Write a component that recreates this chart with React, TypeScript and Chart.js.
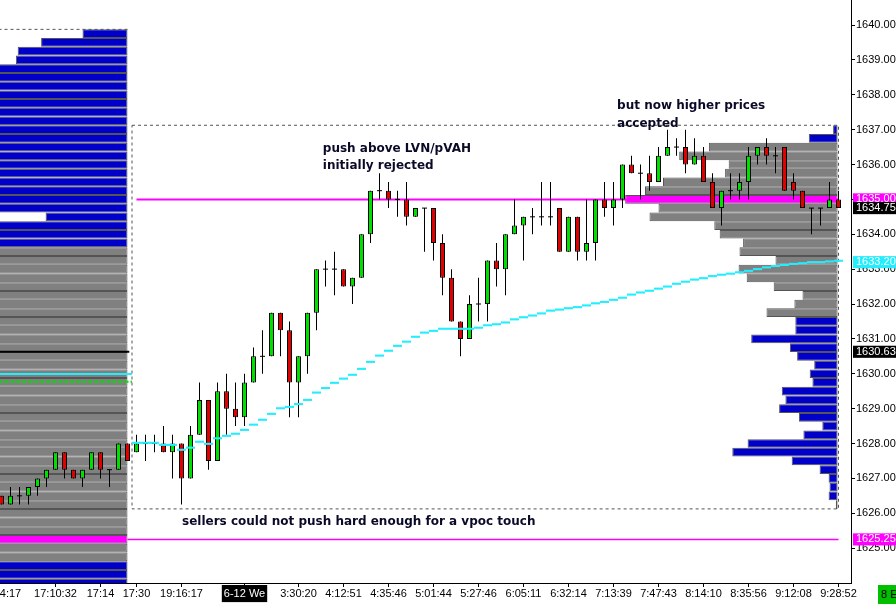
import React, { useEffect, useRef } from "react";
import { Chart, registerables } from "chart.js";

Chart.register(...registerables);

// price / bar-slot ranges of the visible window
const PRICE_MIN = 1624.0;
const PRICE_MAX = 1640.717;
const TICK = 0.25;
const X_MIN = -1 / 6;
const X_MAX = X_MIN + 851 / 9;

// candles (one per bar slot), previous session = 0..14, current = 15..93
const opens = [
  1626.5, 1626.25, 1626.5, 1626.5, 1626.75, 1627.0, 1627.25, 1627.75, 1627.25, 1627.0,
  1627.25, 1627.75, 1627.25, 1627.25, 1628.0, 1627.75, 1628.0, 1628.0, 1628.0, 1627.75,
  1628.0, 1627.0, 1628.25, 1629.25, 1627.5, 1629.5, 1629.0, 1628.75, 1629.75, 1630.5,
  1630.5, 1631.75, 1631.25, 1629.75, 1630.5, 1631.75, 1633.0, 1633.0, 1633.0, 1632.5,
  1632.75, 1634.0, 1635.25, 1635.25, 1635.0, 1635.0, 1634.5, 1634.75, 1634.75, 1633.75,
  1632.75, 1631.5, 1631.0, 1632.0, 1632.0, 1633.25, 1633.0, 1634.0, 1634.25, 1634.5,
  1634.5, 1634.5, 1634.75, 1633.5, 1634.5, 1633.5, 1633.75, 1635.0, 1634.75, 1635.0,
  1636.0, 1635.75, 1635.75, 1635.5, 1636.25, 1636.5, 1636.5, 1636.0, 1636.25, 1635.5,
  1634.75, 1635.25, 1635.25, 1635.5, 1636.25, 1636.5, 1636.25, 1636.5, 1635.5, 1635.25,
  1634.75, 1634.75, 1634.75, 1635.0,
];
const highs = [
  1626.5, 1626.75, 1626.75, 1626.75, 1627.0, 1627.25, 1627.75, 1627.75, 1627.25, 1627.25,
  1627.75, 1627.75, 1627.25, 1628.0, 1628.0, 1628.25, 1628.25, 1628.25, 1628.5, 1628.25,
  1628.0, 1628.5, 1629.75, 1629.25, 1629.75, 1630.0, 1629.75, 1630.0, 1630.75, 1631.25,
  1631.75, 1631.75, 1631.5, 1630.5, 1631.75, 1633.0, 1633.25, 1633.5, 1633.0, 1632.75,
  1634.0, 1635.25, 1635.75, 1635.5, 1635.25, 1635.5, 1634.75, 1634.75, 1634.75, 1634.0,
  1633.0, 1631.5, 1632.25, 1632.75, 1633.25, 1633.75, 1634.0, 1635.0, 1634.5, 1634.75,
  1635.5, 1635.5, 1634.75, 1634.5, 1634.5, 1635.0, 1635.0, 1635.5, 1635.5, 1636.0,
  1636.25, 1636.0, 1636.25, 1636.5, 1637.0, 1636.75, 1637.0, 1636.75, 1636.5, 1635.75,
  1635.25, 1635.75, 1635.75, 1636.5, 1636.5, 1636.75, 1636.5, 1636.5, 1635.75, 1635.25,
  1634.75, 1634.75, 1635.5, 1635.25,
];
const lows = [
  1626.25, 1626.25, 1626.25, 1626.25, 1626.5, 1626.75, 1627.25, 1627.0, 1627.0, 1626.75,
  1627.25, 1627.0, 1626.75, 1627.25, 1627.5, 1627.75, 1627.5, 1627.75, 1627.75, 1627.0,
  1626.25, 1627.0, 1628.25, 1627.25, 1627.5, 1628.25, 1628.5, 1628.5, 1629.75, 1630.0,
  1630.5, 1630.5, 1628.75, 1628.75, 1630.0, 1631.25, 1632.5, 1632.25, 1632.5, 1632.0,
  1632.75, 1633.75, 1635.0, 1634.75, 1634.5, 1634.25, 1634.5, 1633.5, 1633.25, 1632.25,
  1631.5, 1630.5, 1631.0, 1631.5, 1631.5, 1632.5, 1632.25, 1634.0, 1633.25, 1634.0,
  1634.25, 1634.25, 1633.5, 1633.5, 1633.25, 1633.25, 1633.25, 1634.5, 1634.25, 1634.75,
  1635.75, 1635.0, 1635.25, 1635.5, 1636.25, 1636.25, 1635.75, 1636.0, 1635.5, 1634.75,
  1634.25, 1635.0, 1635.0, 1635.0, 1636.0, 1636.0, 1635.75, 1635.25, 1635.0, 1634.75,
  1634.0, 1634.25, 1634.75, 1634.75,
];
const closes = [
  1626.25, 1626.5, 1626.5, 1626.75, 1627.0, 1627.25, 1627.75, 1627.25, 1627.0, 1627.25,
  1627.75, 1627.25, 1627.25, 1628.0, 1627.5, 1628.0, 1628.0, 1628.0, 1627.75, 1628.0,
  1627.0, 1628.25, 1629.25, 1627.5, 1629.5, 1629.0, 1628.75, 1629.75, 1630.5, 1630.5,
  1631.75, 1631.25, 1629.75, 1630.5, 1631.75, 1633.0, 1633.0, 1633.0, 1632.5, 1632.75,
  1634.0, 1635.25, 1635.25, 1635.0, 1635.0, 1634.5, 1634.75, 1634.75, 1633.75, 1632.75,
  1631.5, 1631.0, 1632.0, 1632.0, 1633.25, 1633.0, 1634.0, 1634.25, 1634.5, 1634.5,
  1634.5, 1634.5, 1633.5, 1634.5, 1633.5, 1633.75, 1635.0, 1634.75, 1635.0, 1636.0,
  1635.75, 1635.75, 1635.5, 1636.25, 1636.5, 1636.5, 1636.0, 1636.25, 1635.5, 1634.75,
  1635.25, 1635.25, 1635.5, 1636.25, 1636.5, 1636.25, 1636.25, 1635.25, 1635.25, 1634.75,
  1634.75, 1634.75, 1635.0, 1634.75,
];

// running VWAP of the current session, one value per bar from SESSION_START
const SESSION_START = 15;
const vwap = [
  1628.02, 1628.02, 1628.02, 1627.96, 1627.96, 1627.82, 1627.88, 1628.05, 1627.99, 1628.15,
  1628.22, 1628.28, 1628.39, 1628.54, 1628.68, 1628.85, 1629.01, 1629.05, 1629.13, 1629.25,
  1629.46, 1629.59, 1629.74, 1629.86, 1629.97, 1630.14, 1630.34, 1630.52, 1630.66, 1630.8,
  1630.92, 1631.06, 1631.18, 1631.23, 1631.29, 1631.29, 1631.29, 1631.29, 1631.32, 1631.39,
  1631.42, 1631.47, 1631.56, 1631.62, 1631.67, 1631.73, 1631.81, 1631.84, 1631.88, 1631.91,
  1631.96, 1632.02, 1632.06, 1632.12, 1632.18, 1632.27, 1632.33, 1632.38, 1632.44, 1632.5,
  1632.58, 1632.64, 1632.7, 1632.74, 1632.8, 1632.84, 1632.87, 1632.91, 1632.95, 1633.0,
  1633.05, 1633.09, 1633.12, 1633.15, 1633.17, 1633.2, 1633.2, 1633.22, 1633.24,
];

// previous session volume profile (volume in bar-slot widths), from the top price down
const prevProfileTop = 1639.75;
const prevProfileRight = 14;
const prevProfileVolume = [
  5.0, 9.6, 12.2, 12.4, 15.2, 16.0, 15.8, 17.1, 16.4, 18.0,
  17.5, 16.9, 18.6, 19.2, 17.8, 18.4, 17.0, 16.2, 15.6, 16.8,
  15.9, 9.1, 15.1, 16.3, 17.4, 18.2, 19.5, 20.1, 21.3, 22.0,
  20.8, 21.6, 22.4, 23.1, 22.7, 21.9, 23.5, 24.2, 23.8, 22.6,
  21.4, 22.9, 24.6, 25.1, 24.0, 23.3, 22.1, 21.0, 22.5, 23.7,
  24.8, 25.6, 26.2, 25.4, 24.4, 23.6, 25.9, 27.1, 30.0, 26.5,
  24.3, 19.0, 17.5, 16.0,
];
const prevValueArea = [1624.75, 1633.5];
const prevVpoc = 1625.25;

// current session volume profile
const currProfileTop = 1637.0;
const currProfileRight = 92.9;
const currProfileVolume = [
  0.5, 3.2, 14.3, 17.6, 12.1, 12.5, 19.4, 21.4, 23.6, 19.9,
  20.9, 13.7, 13.1, 10.5, 10.9, 6.9, 11.0, 10.1, 7.1, 3.9,
  4.8, 7.9, 4.7, 4.7, 9.6, 5.3, 4.5, 2.6, 3.1, 2.8,
  6.2, 5.8, 6.5, 4.3, 1.7, 3.8, 10.0, 11.7, 5.1, 2.0,
  1.0, 0.9, 1.0, 0.2,
];
const currValueArea = [1631.75, 1636.5];
const currVpoc = 1635.0;

// reference levels
const sessionHigh = 1637.0;
const sessionLow = 1626.25;
const prevSessionHigh = 1639.75;
const prevSettle = 1630.63;
const prevVwapClose = 1629.99;
const prevGreenLevel = 1629.77;

// axis labels
const priceTicks = [1640, 1639, 1638, 1637, 1636, 1635, 1634, 1633, 1632, 1631, 1630, 1629, 1628, 1627, 1626, 1625];
const priceFlags = [
  { value: 1635.0, bg: "#FF00FF", fg: "#FFFFFF" },
  { value: 1634.75, bg: "#000000", fg: "#FFFFFF" },
  { value: 1633.2, bg: "#22EEFF", fg: "#FFFFFF" },
  { value: 1630.63, bg: "#000000", fg: "#FFFFFF" },
  { value: 1625.25, bg: "#FF00FF", fg: "#FFFFFF" },
];
const timeTickIndex = [1, 6, 11, 15, 20, 27, 33, 38, 43, 48, 53, 58, 63, 68, 73, 78, 83, 88, 93];
const timeTickLabels = [
  "4:17", "17:10:32", "17:14", "17:30", "19:16:17", "6-12 We", "3:30:20", "4:12:51", "4:35:46",
  "5:01:44", "5:27:46", "6:05:11", "6:32:14", "7:13:39", "7:47:43", "8:14:10", "8:35:56", "9:12:08", "9:28:52",
];
const dayBreakLabel = "6-12 We";

const notes = [
  { x: 35.7, y: 1636.45, lines: ["push above LVN/pVAH", "initially rejected"] },
  { x: 68.4, y: 1637.68, lines: ["but now higher prices", "accepted"] },
  { x: 20.06, y: 1625.75, lines: ["sellers could not push hard enough for a vpoc touch"] },
];

const GREEN = "#00E000";
const RED = "#E00000";
const BLUE = "#0000C8";
const GRAY = "#808080";
const MAGENTA = "#FF00FF";
const CYAN = "#22EEFF";
const EDGE = "#555555";
const AXIS_FONT = { family: '"Liberation Sans", Arial, sans-serif', size: 11, lineHeight: 1.1 };

const profileBars = (top: number, right: number, volumes: number[]) =>
  volumes.map((v, k) => ({ y: top - k * TICK, x: [right - v, right] }));

const profileColor = (top: number, va: number[], poc: number) => (ctx: any) => {
  const p = top - (ctx.dataIndex ?? 0) * TICK;
  if (p === poc) return MAGENTA;
  return p >= va[0] && p <= va[1] ? GRAY : BLUE;
};

const hLine = (value: number, from: number, to: number) => [
  { x: from, y: value },
  { x: to, y: value },
];

const notesPlugin = {
  id: "notes",
  afterDatasetsDraw(chart: any) {
    const { ctx, scales } = chart;
    ctx.save();
    ctx.font = 'bold 12px "DejaVu Sans", sans-serif';
    ctx.fillStyle = "#0a0a28";
    ctx.textBaseline = "middle";
    ctx.textAlign = "left";
    notes.forEach((n) => {
      n.lines.forEach((line, k) => {
        ctx.fillText(line, scales.x.getPixelForValue(n.x), scales.y.getPixelForValue(n.y) + k * 17.5);
      });
    });
    ctx.restore();
  },
};

const App: React.FC = () => {
  const chartRef = useRef<HTMLCanvasElement | null>(null);

  useEffect(() => {
    const ctx = chartRef.current?.getContext("2d");
    if (!ctx) {
      return;
    }

    const last = opens.length - 1;
    const barThick = (TICK * 583) / (PRICE_MAX - PRICE_MIN);

    const wickData = opens.map((_, i) => ({ x: i, y: [lows[i], highs[i]] }));
    const bodyData = opens.map((o, i) => {
      const c = closes[i];
      // a doji is drawn as a flat 1px dash
      return o === c ? { x: i, y: [o - 0.0145, o + 0.0145] } : { x: i, y: [Math.min(o, c), Math.max(o, c)] };
    });
    const vwapData = vwap.map((v, k) => ({ x: SESSION_START + k, y: [v - 0.03, v + 0.03] }));

    const sessionBox = [
      { x: SESSION_START - 0.5, y: sessionHigh + TICK / 2 },
      { x: last, y: sessionHigh + TICK / 2 },
      { x: last, y: sessionLow - TICK / 2 },
      { x: SESSION_START - 0.5, y: sessionLow - TICK / 2 },
      { x: SESSION_START - 0.5, y: sessionHigh + TICK / 2 },
    ];

    const barCommon = {
      grouped: false,
      borderSkipped: false,
      inflateAmount: 0,
    };
    const lineCommon = {
      type: "line" as const,
      pointRadius: 0,
      tension: 0,
      fill: false,
    };

    const myChart = new Chart(ctx, {
      type: "bar",
      data: {
        datasets: [
          {
            ...barCommon,
            label: "vwap",
            data: vwapData as any,
            backgroundColor: CYAN,
            borderWidth: 0,
            barThickness: 9,
            order: 0,
          },
          {
            ...barCommon,
            label: "bodies",
            data: bodyData as any,
            backgroundColor: (c: any) => {
              const i = c.dataIndex ?? 0;
              return closes[i] > opens[i] ? GREEN : closes[i] < opens[i] ? RED : "#000";
            },
            borderColor: "#000",
            borderWidth: (c: any) => (opens[c.dataIndex ?? 0] === closes[c.dataIndex ?? 0] ? 0 : 1),
            barThickness: 5,
            order: 1,
          },
          {
            ...barCommon,
            label: "wicks",
            data: wickData as any,
            backgroundColor: "#000",
            borderWidth: 0,
            barThickness: 1,
            order: 2,
          },
          {
            ...lineCommon,
            label: "pvpoc",
            data: hLine(currVpoc, SESSION_START, last),
            borderColor: MAGENTA,
            borderWidth: 2,
            order: 3,
          },
          {
            ...lineCommon,
            label: "prev vpoc",
            data: hLine(prevVpoc, prevProfileRight, last),
            borderColor: MAGENTA,
            borderWidth: 1.5,
            order: 3,
          },
          {
            ...lineCommon,
            label: "settle",
            data: hLine(prevSettle, -1, prevProfileRight + 0.2),
            borderColor: "#000",
            borderWidth: 2,
            order: 3,
          },
          {
            ...lineCommon,
            label: "prev vwap",
            data: hLine(prevVwapClose, -1, SESSION_START - 0.5),
            borderColor: CYAN,
            borderWidth: 2,
            order: 3,
          },
          {
            ...lineCommon,
            label: "green",
            data: hLine(prevGreenLevel, -1, SESSION_START - 0.5),
            borderColor: GREEN,
            borderWidth: 2,
            borderDash: [4, 2],
            order: 3,
          },
          {
            ...barCommon,
            label: "prev profile",
            indexAxis: "y",
            data: profileBars(prevProfileTop, prevProfileRight, prevProfileVolume) as any,
            backgroundColor: profileColor(prevProfileTop, prevValueArea, prevVpoc),
            borderColor: EDGE,
            borderWidth: 1,
            barThickness: barThick,
            order: 4,
          },
          {
            ...barCommon,
            label: "profile",
            indexAxis: "y",
            data: profileBars(currProfileTop, currProfileRight, currProfileVolume) as any,
            backgroundColor: profileColor(currProfileTop, currValueArea, currVpoc),
            borderColor: EDGE,
            borderWidth: 1,
            barThickness: barThick,
            order: 4,
          },
          {
            ...lineCommon,
            label: "session box",
            data: sessionBox,
            borderColor: EDGE,
            borderWidth: 1,
            borderDash: [3, 3],
            order: 5,
          },
          {
            ...lineCommon,
            label: "prev box",
            data: hLine(prevSessionHigh + TICK / 2, -1, prevProfileRight),
            borderColor: EDGE,
            borderWidth: 1,
            borderDash: [3, 3],
            order: 5,
          },
        ] as any,
      },
      options: {
        animation: false,
        responsive: true,
        maintainAspectRatio: false,
        events: [],
        layout: { padding: 0 },
        plugins: {
          legend: { display: false },
          tooltip: { enabled: false },
        },
        scales: {
          x: {
            type: "linear",
            position: "bottom",
            min: X_MIN,
            max: X_MAX,
            offset: false,
            afterBuildTicks: (s: any) => {
              s.ticks = timeTickIndex.map((v) => ({ value: v }));
            },
            afterFit: (s: any) => {
              s.height = 21;
              s.paddingLeft = 0;
              s.paddingRight = 0;
            },
            ticks: {
              autoSkip: false,
              maxRotation: 0,
              minRotation: 0,
              padding: 1,
              font: AXIS_FONT,
              callback: (_v: any, i: number) => timeTickLabels[i],
              color: (c: any) => (timeTickLabels[c.index] === dayBreakLabel ? "#FFFFFF" : "#000"),
              showLabelBackdrop: (c: any) => timeTickLabels[c.index] === dayBreakLabel,
              backdropColor: "#000",
              backdropPadding: { top: 3, bottom: 2, left: 2, right: 2 },
            },
            grid: {
              display: true,
              drawOnChartArea: false,
              drawTicks: true,
              tickLength: 4,
              offset: false,
              tickColor: (c: any) => (c.index === 0 ? "rgba(0,0,0,0)" : "#000"),
            },
            border: { display: true, color: "#000", width: 1 },
          },
          y: {
            type: "linear",
            position: "right",
            min: PRICE_MIN,
            max: PRICE_MAX,
            offset: false,
            beginAtZero: false,
            afterBuildTicks: (s: any) => {
              s.ticks = [...priceTicks.map((v) => ({ value: v })), ...priceFlags.map((f) => ({ value: f.value }))];
            },
            afterFit: (s: any) => {
              s.width = 45;
              s.paddingTop = 0;
              s.paddingBottom = 0;
            },
            ticks: {
              autoSkip: false,
              padding: 1,
              font: AXIS_FONT,
              callback: (v: any) => Number(v).toFixed(2),
              color: (c: any) => {
                const f = priceFlags[c.index - priceTicks.length];
                return f ? f.fg : "#000";
              },
              showLabelBackdrop: (c: any) => c.index >= priceTicks.length,
              backdropColor: (c: any) => {
                const f = priceFlags[c.index - priceTicks.length];
                return f ? f.bg : "rgba(0,0,0,0)";
              },
              backdropPadding: { top: 0, bottom: 0, left: 3, right: 4 },
            },
            grid: {
              display: true,
              drawOnChartArea: false,
              drawTicks: true,
              tickLength: 4,
              offset: false,
              tickColor: (c: any) => (c.index < priceTicks.length ? "#000" : "rgba(0,0,0,0)"),
            },
            border: { display: true, color: "#000", width: 1 },
          },
        },
      } as any,
      plugins: [notesPlugin],
    });

    return () => {
      myChart.destroy();
    };
  }, []);

  return (
    <div style={{ position: "absolute", left: 0, top: 0, width: 896, height: 604, background: "#fff" }}>
      <canvas ref={chartRef} />
      <div
        style={{
          position: "absolute",
          left: 878,
          top: 585,
          width: 18,
          height: 19,
          background: "#00C000",
          color: "#000",
          font: '11px "Liberation Sans", Arial, sans-serif',
          lineHeight: "19px",
          paddingLeft: 3,
          boxSizing: "border-box",
          overflow: "hidden",
          whiteSpace: "nowrap",
        }}
      >
        8 E
      </div>
    </div>
  );
};

export default App;
